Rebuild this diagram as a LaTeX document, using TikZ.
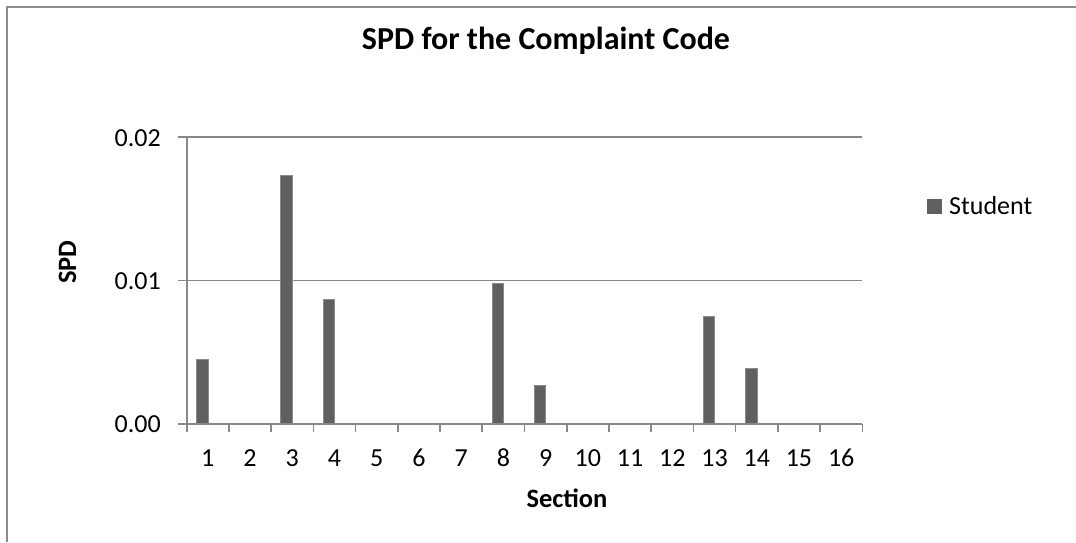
\documentclass[tikz,border=0pt]{standalone}
\usepackage{fontspec}
\setmainfont{Carlito}
\definecolor{axisgray}{HTML}{878787}
\definecolor{framegray}{HTML}{8C8C8C}
\definecolor{bargray}{HTML}{606060}
\definecolor{baredge}{HTML}{8A8A8A}
\begin{document}
\begin{tikzpicture}[x=1pt,y=-1pt,
  axisline/.style={draw=axisgray, line width=1.6pt},
  gridline/.style={draw=axisgray, line width=1.6pt},
  frameline/.style={draw=framegray, line width=1.6pt},
  barbox/.style={fill=bargray, draw=baredge, line width=0.6pt},
  ticklbl/.style={font=\fontsize{26}{30}\selectfont, inner sep=0pt},
  axtitle/.style={font=\fontsize{26.5}{30}\selectfont\bfseries, inner sep=0pt},
  charttitle/.style={font=\fontsize{32}{36}\selectfont\bfseries, inner sep=0pt}]
\useasboundingbox (0,0) rectangle (1076,542);
\fill[white] (0,0) rectangle (1076,542);
% chart frame (left and top edges visible)
\draw[frameline] (7,542) -- (7,7) -- (1076,7);
% gridlines
\draw[gridline] (178,137) -- (862.3,137);
\draw[gridline] (178,280.5) -- (862.3,280.5);
% bars
\foreach \i/\v in {1/0.0045, 3/0.01735, 4/0.0087, 8/0.0098, 9/0.0027, 13/0.0075, 14/0.00388}{
  \pgfmathsetmacro{\xl}{186.7+(\i-1)*42.225+9.6}
  \pgfmathsetmacro{\yt}{424-\v*14350}
  \filldraw[barbox] (\xl,424) rectangle ({\xl+11.6},\yt);
}
% axes
\draw[axisline] (186.7,137) -- (186.7,424);
\draw[axisline] (178,424) -- (862.3,424);
\foreach \k in {0,...,16}{
  \draw[axisline] ({186.7+\k*42.225},424) -- ({186.7+\k*42.225},432);
}
% y tick labels
\node[ticklbl, anchor=east] (ylab0) at (161,424) {0.00};
\node[ticklbl, anchor=east] (ylab1) at (161,281) {0.01};
\node[ticklbl, anchor=east] (ylab2) at (161,138) {0.02};
% x tick labels
\foreach \i in {1,...,16}{
  \node[ticklbl] (xlab\i) at ({186.7+(\i-0.5)*42.225},458) {\i};
}
% titles
\node[charttitle, anchor=base] (title) at (546,49) {SPD for the Complaint Code};
\node[axtitle, rotate=90] (ytitle) at (67.5,262) {SPD};
\node[axtitle, anchor=base] (xtitle) at (567,507) {Section};
% legend
\fill[bargray] (927,199) rectangle (942,214);
\node[ticklbl, anchor=base west] (legend) at (949,214) {Student};
\end{tikzpicture}
\end{document}
